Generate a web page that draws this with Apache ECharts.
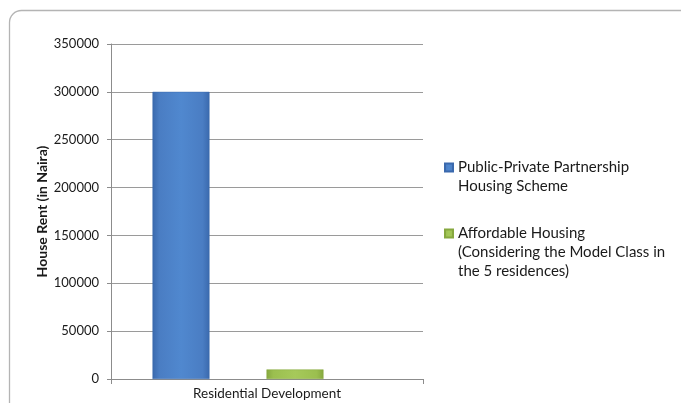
<!DOCTYPE html>
<html>
<head>
<meta charset="utf-8">
<script src="https://cdn.jsdelivr.net/npm/echarts@6/dist/echarts.min.js"></script>
<style>
html,body{margin:0;padding:0;background:#fff;}
#chart{width:681px;height:403px;}
</style>
</head>
<body>
<div id="chart"></div>
<script>
const categories = ['Residential Development'];
const seriesNames = ['Public-Private Partnership Housing Scheme', 'Affordable Housing (Considering the Model Class in the 5 residences)'];
const pppValues = [300000];
const affordableValues = [10000];
const yTicks = {min: 0, max: 350000, interval: 50000};
const legendLabels = {
  'Public-Private Partnership Housing Scheme': '\nPublic-Private Partnership\nHousing Scheme',
  'Affordable Housing (Considering the Model Class in the 5 residences)': '\n\nAffordable Housing\n(Considering the Model Class in\nthe 5 residences)'
};

const font = 'Lato, "Open Sans", sans-serif';
const blueGrad = new echarts.graphic.LinearGradient(0, 0, 1, 0, [
  {offset: 0, color: '#3a69ad'},
  {offset: 0.12, color: '#4a7dc3'},
  {offset: 0.5, color: '#5088cf'},
  {offset: 0.88, color: '#4a7dc3'},
  {offset: 1, color: '#3a69ad'}
]);
const greenGrad = new echarts.graphic.LinearGradient(0, 0, 1, 0, [
  {offset: 0, color: '#86a83f'},
  {offset: 0.12, color: '#9bbf4f'},
  {offset: 0.5, color: '#a6c95a'},
  {offset: 0.88, color: '#9bbf4f'},
  {offset: 1, color: '#86a83f'}
]);

const chart = echarts.init(document.getElementById('chart'), null, {renderer: 'canvas'});
chart.setOption({
  animation: false,
  backgroundColor: '#fff',
  textStyle: {fontFamily: font},
  graphic: [{
    type: 'rect',
    shape: {x: 9.5, y: 10.5, width: 720, height: 440, r: 12},
    style: {fill: 'none', stroke: '#b4b4b4', lineWidth: 1.3},
    silent: true, z: -10
  }],
  grid: {left: 111, right: 258, top: 44, bottom: 24, containLabel: false},
  legend: {
    orient: 'vertical',
    left: 444,
    top: 139,
    padding: 0,
    itemGap: -10,
    itemWidth: 8,
    itemHeight: 8,
    icon: 'rect',
    data: seriesNames,
    formatter: function (name) { return legendLabels[name]; },
    textStyle: {fontFamily: font, fontSize: 15, color: '#1a1a1a', lineHeight: 19}
  },
  xAxis: {
    type: 'category',
    data: categories,
    axisLine: {lineStyle: {color: '#8c8c8c', width: 1}},
    axisTick: {show: true, length: 5, lineStyle: {color: '#8c8c8c'}},
    axisLabel: {fontFamily: font, fontSize: 13.5, color: '#1a1a1a', margin: 8}
  },
  yAxis: {
    type: 'value',
    min: yTicks.min,
    max: yTicks.max,
    interval: yTicks.interval,
    name: 'House Rent (in Naira)',
    nameLocation: 'middle',
    nameGap: 62,
    nameTextStyle: {fontFamily: font, fontSize: 14, fontWeight: 'bold', color: '#1a1a1a'},
    axisLine: {show: true, lineStyle: {color: '#8c8c8c', width: 1}},
    axisTick: {show: true, length: 4, lineStyle: {color: '#8c8c8c'}},
    axisLabel: {fontFamily: font, fontSize: 13, color: '#1a1a1a', margin: 12,
      formatter: function (v) { return String(v); }},
    splitLine: {show: true, lineStyle: {color: '#9a9a9a', width: 1}}
  },
  series: [
    {
      name: seriesNames[0], type: 'bar', data: pppValues,
      barWidth: 57, barGap: '100%',
      itemStyle: {color: blueGrad, borderColor: '#3a69ad', borderWidth: 0.5}
    },
    {
      name: seriesNames[1], type: 'bar', data: affordableValues,
      barWidth: 57, barGap: '100%',
      itemStyle: {color: greenGrad, borderColor: '#86a83f', borderWidth: 0.5}
    },
    {
      name: 'spacer', type: 'bar', data: ['-'],
      barWidth: 0.01, barGap: '100%', silent: true
    }
  ]
});
</script>
</body>
</html>
